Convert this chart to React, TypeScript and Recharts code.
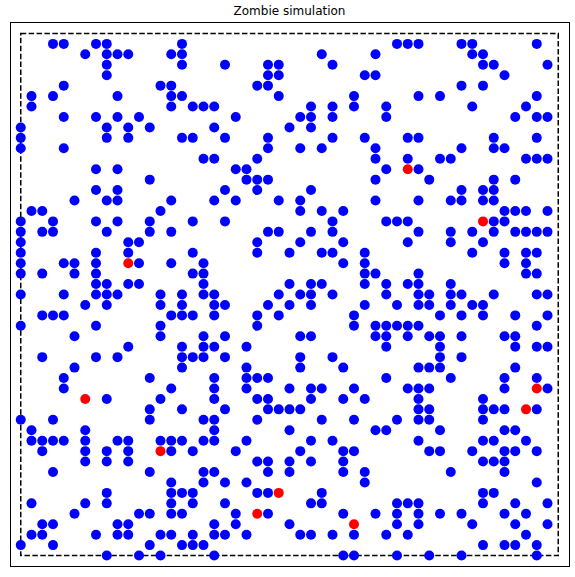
import React from 'react';
import { ScatterChart, Scatter, XAxis, YAxis, ReferenceArea } from 'recharts';

// columns of the humans (blue) for each grid row, row index = y
const blueRows: Record<number, number[]> = {
  49: [3, 4, 7, 8, 15, 35, 36, 37, 41, 42, 48],
  48: [6, 8, 9, 10, 14, 15, 28, 33, 42, 43],
  47: [8, 15, 19, 23, 24, 29, 43, 44, 49],
  46: [8, 23, 24, 32, 33, 45],
  45: [4, 13, 14, 22, 23, 41, 43],
  44: [1, 3, 9, 14, 15, 24, 31, 37, 39, 48],
  43: [1, 14, 16, 17, 18, 27, 29, 31, 34, 42, 47],
  42: [4, 7, 9, 11, 20, 26, 27, 29, 34, 46, 48, 49],
  41: [0, 8, 10, 12, 18, 25, 27],
  40: [0, 8, 10, 15, 16, 19, 23, 29, 32, 36, 37, 44, 48],
  39: [0, 4, 23, 26, 28, 33, 41, 44, 45],
  38: [17, 18, 22, 33, 36, 39, 40, 47, 48, 49],
  37: [7, 9, 20, 21, 34, 37],
  36: [12, 21, 22, 23, 33, 38, 44, 46],
  35: [7, 9, 19, 22, 27, 41, 43, 44],
  34: [5, 8, 9, 14, 18, 20, 24, 26, 33, 37, 40, 41, 43, 44],
  33: [1, 2, 13, 26, 28, 30, 45, 46, 47, 49],
  32: [0, 3, 7, 9, 12, 16, 19, 29, 34, 35, 36, 44, 45],
  31: [0, 2, 3, 8, 12, 14, 23, 24, 27, 29, 37, 40, 42, 44, 46, 47, 48, 49],
  30: [0, 10, 11, 22, 26, 30, 36, 40, 43],
  29: [0, 7, 10, 16, 22, 25, 28, 29, 32, 42, 45, 47, 48],
  28: [0, 4, 5, 7, 11, 14, 17, 30, 32, 45, 47],
  27: [0, 2, 5, 7, 16, 17, 32, 33, 37, 47, 48],
  26: [7, 8, 10, 11, 17, 25, 27, 28, 32, 34, 36, 37, 40],
  25: [0, 4, 7, 8, 9, 13, 15, 17, 18, 24, 26, 27, 29, 34, 37, 38, 40, 41, 44, 48, 49],
  24: [6, 8, 13, 15, 18, 19, 23, 25, 27, 32, 35, 37, 38, 40, 42, 43],
  23: [2, 3, 4, 14, 15, 16, 18, 22, 24, 31, 39, 41, 43, 46, 49],
  22: [0, 7, 13, 22, 31, 33, 34, 35, 36, 37, 48],
  21: [5, 13, 17, 19, 26, 27, 33, 34, 36, 38, 39, 41, 45, 46],
  20: [10, 15, 17, 18, 21, 34, 39, 46, 48, 49],
  19: [2, 7, 9, 15, 16, 17, 19, 26, 29, 39, 41],
  18: [5, 15, 21, 26, 30, 37, 38, 39, 46],
  17: [4, 12, 18, 21, 22, 23, 34, 40, 45, 48],
  16: [4, 14, 18, 21, 25, 27, 28, 31, 36, 37, 38, 45, 49],
  15: [8, 13, 18, 22, 23, 27, 30, 32, 37, 43],
  14: [12, 15, 19, 23, 24, 25, 26, 37, 38, 43, 44, 45, 48],
  13: [0, 3, 12, 17, 18, 22, 28, 31, 35, 37, 38, 43],
  12: [1, 6, 18, 25, 33, 34, 39, 45, 46],
  11: [1, 2, 3, 4, 6, 9, 10, 13, 14, 15, 17, 18, 21, 27, 29, 37, 43, 44, 47],
  10: [2, 6, 8, 10, 14, 16, 20, 26, 30, 31, 38, 39, 42, 45, 46, 48],
  9: [6, 8, 10, 22, 23, 25, 27, 30, 43, 44, 45],
  8: [3, 12, 17, 18, 23, 25, 30, 32, 40, 45],
  7: [14, 17, 19, 21, 32, 48],
  6: [8, 14, 15, 16, 22, 23, 28, 43, 44],
  5: [1, 6, 8, 14, 16, 19, 27, 28, 35, 36, 37, 43, 46, 49],
  4: [5, 11, 12, 14, 15, 20, 23, 30, 33, 35, 37, 39, 41, 45, 47],
  3: [2, 3, 9, 10, 18, 20, 25, 35, 37, 42, 46, 49],
  2: [1, 2, 7, 9, 10, 13, 14, 16, 18, 19, 21, 26, 27, 29, 31, 34, 36, 47],
  1: [0, 3, 12, 15, 16, 17, 43, 45, 46, 48],
  0: [8, 11, 13, 18, 30, 31, 35, 38, 41, 48],
};

// zombies (red)
const redX = [36, 43, 10, 48, 6, 47, 13, 24, 22, 31];
const redY = [37, 32, 28, 16, 15, 14, 10, 6, 4, 3];

const humans = Object.entries(blueRows).flatMap(([row, cols]) =>
  cols.map((c) => ({ x: c, y: Number(row) }))
);
const zombies = redX.map((x, i) => ({ x, y: redY[i] }));

const dot = (color: string) => (props: any) => (
  <circle cx={props.cx} cy={props.cy} r={5} fill={color} />
);

export default function App() {
  return (
    <div style={{ position: 'absolute', left: 0, top: 0, width: 575, height: 577, background: '#fff' }}>
      <div
        style={{
          position: 'absolute',
          left: 10,
          width: 559,
          top: 4,
          textAlign: 'center',
          fontFamily: 'DejaVu Sans',
          fontSize: 12,
          color: '#000',
        }}
      >
        Zombie simulation
      </div>
      <ScatterChart width={575} height={577} margin={{ top: 23, right: 6, bottom: 11, left: 10 }}>
        <XAxis type="number" dataKey="x" domain={[-1, 51]} allowDataOverflow hide />
        <YAxis type="number" dataKey="y" domain={[-1, 51]} allowDataOverflow hide />
        <ReferenceArea
          x1={0}
          x2={50}
          y1={0}
          y2={50}
          fill="none"
          fillOpacity={0}
          stroke="#000"
          strokeWidth={1.5}
          strokeDasharray="5.5 2.4"
        />
        <Scatter data={humans} shape={dot('#0000ff')} isAnimationActive={false} />
        <Scatter data={zombies} shape={dot('#ff0000')} isAnimationActive={false} />
      </ScatterChart>
      <div
        style={{
          position: 'absolute',
          left: 10,
          top: 22,
          width: 558,
          height: 543,
          border: '1px solid #000',
          pointerEvents: 'none',
        }}
      />
    </div>
  );
}
